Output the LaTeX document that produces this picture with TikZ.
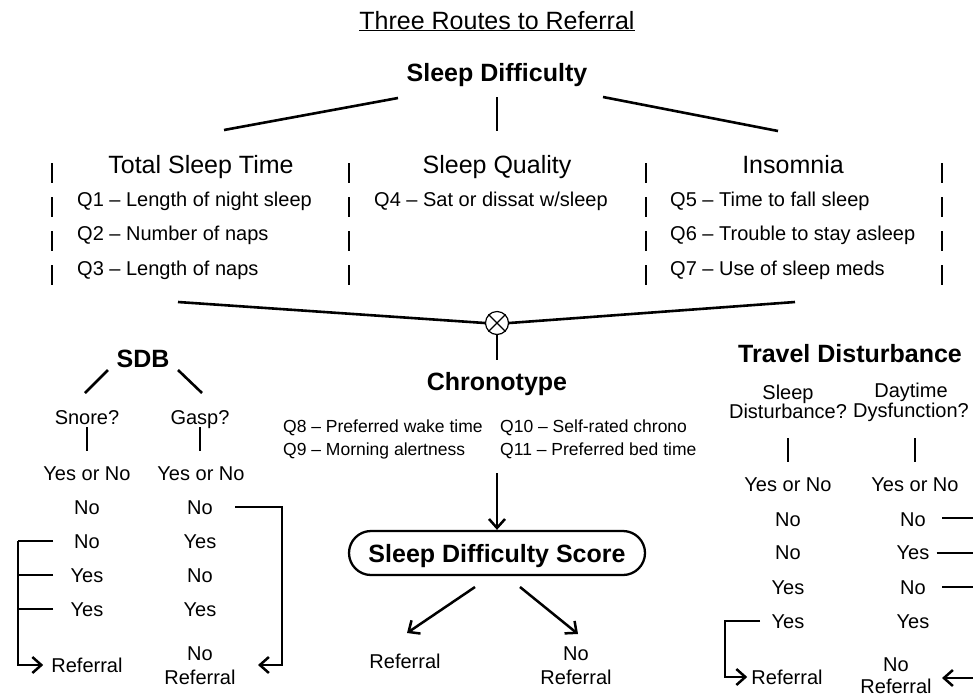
\documentclass[tikz,border=0pt]{standalone}
\usepackage{fontspec}
\setmainfont{Liberation Sans}
\usetikzlibrary{arrows.meta,shapes.misc}
\begin{document}
\begin{tikzpicture}[x=1pt,y=-1pt,
  hd/.style={font=\fontsize{25}{30}\selectfont, inner sep=0pt, text height=18pt, text depth=0pt},
  bhd/.style={font=\fontsize{25}{30}\selectfont\bfseries, inner sep=0pt, text height=18pt, text depth=0pt},
  q/.style={font=\fontsize{20}{24}\selectfont, anchor=west, inner sep=0pt, text height=14.4pt, text depth=0pt},
  t/.style={font=\fontsize{20}{24}\selectfont, inner sep=0pt, text height=14.4pt, text depth=0pt},
  tt/.style={font=\fontsize{20}{24}\selectfont, inner sep=0pt, align=center},
  cq/.style={font=\fontsize{17.5}{21}\selectfont, anchor=west, inner sep=0pt, text height=12.6pt, text depth=0pt},
  ln/.style={line width=2.6pt},
  br/.style={line width=2.5pt},
  arr/.style={line width=2.5pt, -{Straight Barb[length=9pt,width=16pt]}},
  sep/.style={line width=2.8pt, dash pattern=on 20pt off 14pt},
]
\useasboundingbox (0,0) rectangle (973,697);

% title and top
\node[hd] (title) at (497,20) {\underline{Three Routes to Referral}};
\node[bhd] (sd) at (497,72) {Sleep Difficulty};
\coordinate (sdl) at (398,98); \coordinate (sdm) at (497,97); \coordinate (sdr) at (603,97);
\coordinate (tstt) at (224,130); \coordinate (sqt) at (497,131); \coordinate (inst) at (778,131);
\draw[ln] (sdl) -- (tstt);
\draw[ln] (sdm) -- (sqt);
\draw[ln] (sdr) -- (inst);

% three categories
\node[hd] (tst) at (201,164) {Total Sleep Time};
\node[hd] (sq) at (497,164) {Sleep Quality};
\node[hd] (ins) at (793,164) {Insomnia};
\node[q] (q1) at (77,199) {Q1 – Length of night sleep};
\node[q] (q2) at (77,233) {Q2 – Number of naps};
\node[q] (q3) at (77,268) {Q3 – Length of naps};
\node[q] (q4) at (374,199) {Q4 – Sat or dissat w/sleep};
\node[q] (q5) at (670,199) {Q5 – Time to fall sleep};
\node[q] (q6) at (670,233) {Q6 – Trouble to stay asleep};
\node[q] (q7) at (670,268) {Q7 – Use of sleep meds};

\coordinate (s1a) at (52,163); \coordinate (s1b) at (52,285);
\coordinate (s2a) at (349,163); \coordinate (s2b) at (349,285);
\coordinate (s3a) at (646,163); \coordinate (s3b) at (646,285);
\coordinate (s4a) at (942,163); \coordinate (s4b) at (942,285);
\draw[sep] (s1a) -- (s1b);
\draw[sep] (s2a) -- (s2b);
\draw[sep] (s3a) -- (s3b);
\draw[sep] (s4a) -- (s4b);

% junction
\node[circle, draw, line width=1.2pt, minimum size=23pt, inner sep=0pt] (ox) at (497,323) {};
\draw[line width=1.1pt] (ox.north west) -- (ox.south east) (ox.north east) -- (ox.south west);
\coordinate (jl) at (178,302); \coordinate (jr) at (795,302);
\coordinate (jb) at (497,360);
\draw[ln] (jl) -- (ox.west);
\draw[ln] (ox.east) -- (jr);
\draw[ln] (ox.south) -- (jb);

% chronotype
\node[bhd] (chrono) at (497,381) {Chronotype};
\node[cq] (q8) at (283,426) {Q8 – Preferred wake time};
\node[cq] (q9) at (283,449) {Q9 – Morning alertness};
\node[cq] (q10) at (500,426) {Q10 – Self-rated chrono};
\node[cq] (q11) at (500,449) {Q11 – Preferred bed time};
\coordinate (ca) at (497,473);
\node[draw, rounded rectangle, line width=2.3pt, minimum width=296pt, minimum height=44pt,
      font=\fontsize{25}{30}\selectfont\bfseries, inner sep=0pt, text height=18pt, text depth=0pt] (sds) at (497,553) {Sleep Difficulty Score};
\draw[arr] (ca) -- (sds.north);
\node[t] (cref) at (405,661) {Referral};
\node[tt] (cnoref) at (576,666) {No\\Referral};
\coordinate (cal) at (475,587); \coordinate (car) at (520,587);
\coordinate (calt) at (407,633); \coordinate (cart) at (578,634);
\draw[arr] (cal) -- (calt);
\draw[arr] (car) -- (cart);

% SDB
\node[bhd] (sdb) at (143,358) {SDB};
\coordinate (sdbl1) at (108,370); \coordinate (sdbl2) at (85,393);
\coordinate (sdbr1) at (178,370); \coordinate (sdbr2) at (202,393);
\draw[ln] (sdbl1) -- (sdbl2);
\draw[ln] (sdbr1) -- (sdbr2);
\node[t] (snore) at (87,417) {Snore?};
\node[t] (gasp) at (200,417) {Gasp?};
\coordinate (snv1) at (87,427); \coordinate (snv2) at (87,451);
\coordinate (gsv1) at (200,427); \coordinate (gsv2) at (200,451);
\draw[ln] (snv1) -- (snv2);
\draw[ln] (gsv1) -- (gsv2);
\node[t] (yn1) at (87,473) {Yes or No};
\node[t] (yn2) at (201,473) {Yes or No};
\node[t] (a1) at (87,507) {No};
\node[t] (a2) at (87,541) {No};
\node[t] (a3) at (87,575) {Yes};
\node[t] (a4) at (87,609) {Yes};
\node[t] (b1) at (200,507) {No};
\node[t] (b2) at (200,541) {Yes};
\node[t] (b3) at (200,575) {No};
\node[t] (b4) at (200,609) {Yes};
\node[t] (sref) at (87,665) {Referral};
\node[tt] (snoref) at (200,666) {No\\Referral};
\coordinate (lb) at (18,541);
\draw[br] (53,541) -- (lb);
\draw[br] (53,575) -- (18,575);
\draw[br] (53,609) -- (18,609);
\draw[arr] (lb) -- (18,665) -- ([xshift=-8pt]sref.west);
\coordinate (rb) at (235,507);
\coordinate (rbt) at (258,665);
\draw[arr] (rb) -- (282,507) -- (282,665) -- (rbt);

% Travel disturbance
\node[bhd] (td) at (850,353) {Travel Disturbance};
\node[tt, font=\fontsize{20}{18}\selectfont] (sdist) at (788,402) {Sleep\\Disturbance?};
\node[tt, font=\fontsize{20}{18}\selectfont] (dysf) at (911,402) {Daytime\\Dysfunction?};
\coordinate (tv1) at (788,438); \coordinate (tv2) at (788,462);
\coordinate (tv3) at (915,438); \coordinate (tv4) at (915,462);
\draw[ln] (tv1) -- (tv2);
\draw[ln] (tv3) -- (tv4);
\node[t] (yn3) at (788,484) {Yes or No};
\node[t] (yn4) at (915,484) {Yes or No};
\node[t] (c1) at (788,519) {No};
\node[t] (c2) at (788,552) {No};
\node[t] (c3) at (788,587) {Yes};
\node[t] (c4) at (788,621) {Yes};
\node[t] (d1) at (913,519) {No};
\node[t] (d2) at (913,552) {Yes};
\node[t] (d3) at (913,587) {No};
\node[t] (d4) at (913,621) {Yes};
\node[t] (tref) at (787,677) {Referral};
\node[tt, font=\fontsize{20}{22}\selectfont] (tnoref) at (896,676) {No\\Referral};
\coordinate (e1) at (973,518); \coordinate (e2) at (973,553); \coordinate (e3) at (973,587); \coordinate (e4) at (973,678);
\draw[br] ([xshift=16pt]d1.east |- e1) -- (e1);
\draw[br] ([xshift=7pt]d2.east |- e2) -- (e2);
\draw[br] ([xshift=16pt]d3.east |- e3) -- (e3);
\draw[arr] (e4) -- (942,678);
\coordinate (tb) at (760,621);
\draw[arr] (tb) -- (725,621) -- (725,677) -- ([xshift=-4pt]tref.west);
\end{tikzpicture}
\end{document}
